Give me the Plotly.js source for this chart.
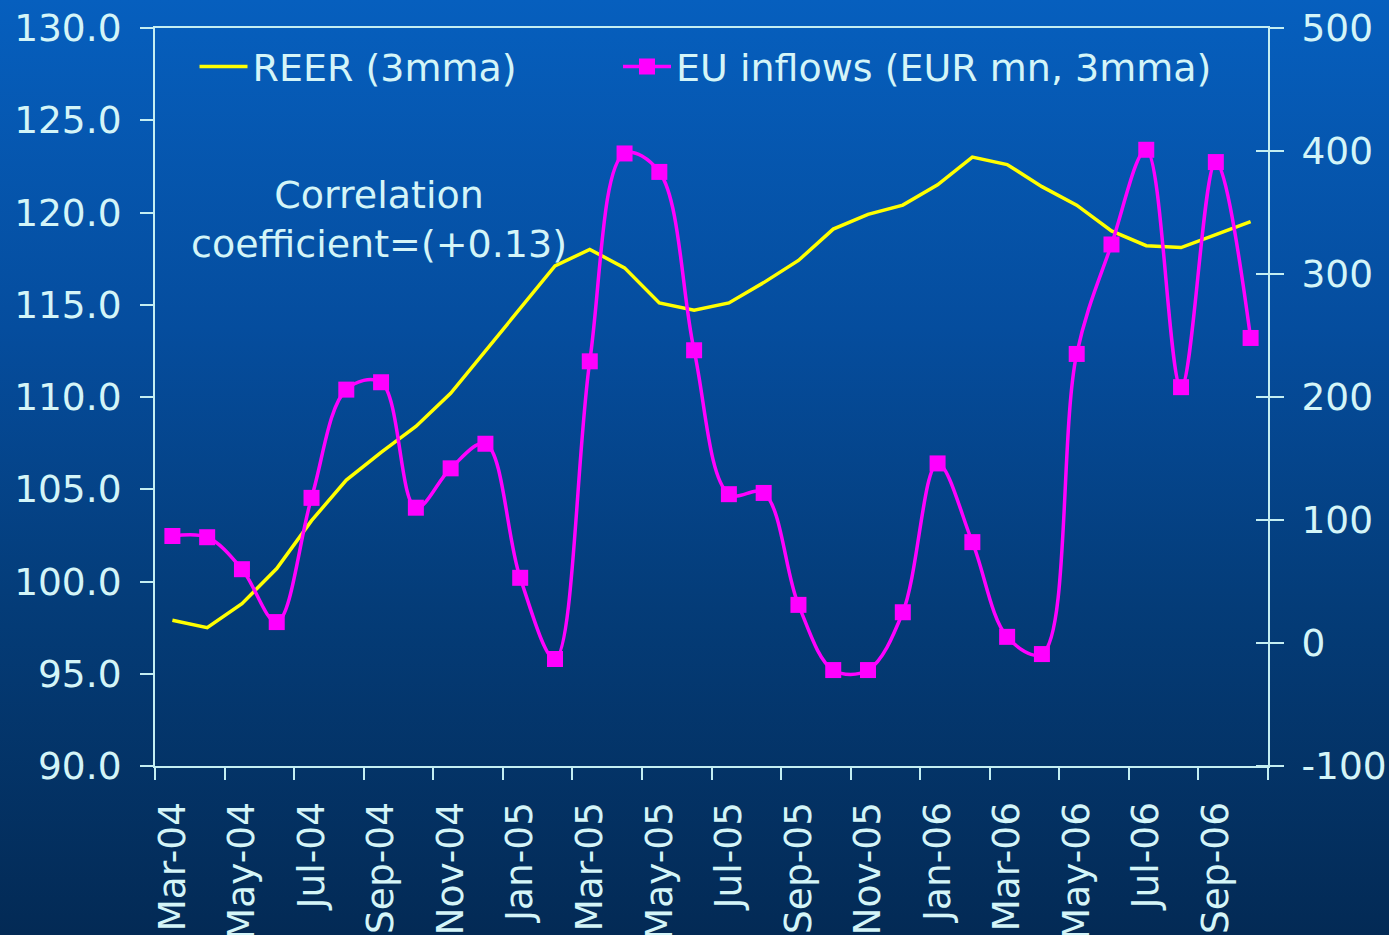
<!DOCTYPE html>
<html>
<head>
<meta charset="utf-8">
<script src="https://cdn.plot.ly/plotly-3.0.1.min.js"></script>
<style>
  html, body { margin: 0; padding: 0; width: 1389px; height: 935px; overflow: hidden; }
  body { background: linear-gradient(to bottom, #065fbe 0%, #054d9e 35%, #043c78 65%, #032a55 100%); }
  #chart { width: 1389px; height: 935px; }
</style>
</head>
<body>
<div id="chart"></div>
<script>
const months = ['Mar-04','Apr-04','May-04','Jun-04','Jul-04','Aug-04','Sep-04','Oct-04','Nov-04','Dec-04',
  'Jan-05','Feb-05','Mar-05','Apr-05','May-05','Jun-05','Jul-05','Aug-05','Sep-05','Oct-05','Nov-05','Dec-05',
  'Jan-06','Feb-06','Mar-06','Apr-06','May-06','Jun-06','Jul-06','Aug-06','Sep-06','Oct-06'];
const reer = [97.9,97.5,98.8,100.7,103.3,105.5,107.0,108.4,110.2,112.5,
  114.8,117.1,118.0,117.0,115.1,114.7,115.1,116.2,117.4,119.1,119.9,120.4,
  121.5,123.0,122.6,121.4,120.4,119.0,118.2,118.1,118.8,119.5];
const euInflows = [87,86,60,17,118,206,212,110,142,162,
  53,-13,229,398,383,238,121,122,31,-22,-22,25,
  146,82,5,-9,235,324,401,208,391,248];
const leftTicks = [90,95,100,105,110,115,120,125,130];
const rightTicks = [-100,0,100,200,300,400,500];
const rightTickText = ['-100','0','100','200','300','400','500'];
const seriesNames = ['REER (3mma)','EU inflows (EUR mn, 3mma)'];
const noteText = 'Correlation<br>coefficient=(+0.13)';

const textColor = '#d4f5f8';
const axisColor = '#c4eef2';
const tickSize = 37.5;
const textSize = 38;

const traces = [
  {
    x: months, y: reer, name: seriesNames[0], type: 'scatter', mode: 'lines',
    line: {color: '#ffff00', width: 3.5}, yaxis: 'y', legend: 'legend'
  },
  {
    x: months, y: euInflows, name: seriesNames[1], type: 'scatter', mode: 'lines+markers',
    line: {color: '#ff00ff', width: 3.5, shape: 'spline', smoothing: 1},
    marker: {symbol: 'square', size: 16, color: '#ff00ff'}, yaxis: 'y2', legend: 'legend2'
  }
];

const legendCommon = {
  orientation: 'h', yanchor: 'top', xanchor: 'left', y: 0.99,
  itemwidth: 48,
  bgcolor: 'rgba(0,0,0,0)', borderwidth: 0,
  font: {size: textSize, color: textColor}
};

const layout = {
  width: 1389, height: 935,
  margin: {l: 155, r: 121, t: 28, b: 169, pad: 0},
  paper_bgcolor: 'rgba(0,0,0,0)',
  plot_bgcolor: 'rgba(0,0,0,0)',
  font: {family: 'DejaVu Sans, Verdana, sans-serif', size: textSize, color: textColor},
  showlegend: true,
  legend: Object.assign({}, legendCommon, {x: 0.0355}),
  legend2: Object.assign({}, legendCommon, {x: 0.416}),
  xaxis: {
    type: 'category', range: [-0.5, 31.5],
    tickmode: 'linear', tick0: 0, dtick: 2, tickson: 'boundaries',
    ticks: 'outside', ticklen: 12, tickwidth: 2, tickcolor: axisColor,
    showline: true, linecolor: axisColor, linewidth: 2, mirror: true,
    tickangle: -90, showgrid: false, zeroline: false,
    ticklabelstandoff: 19,
    tickfont: {size: tickSize, color: textColor}
  },
  yaxis: {
    range: [90, 130], tickmode: 'array', tickvals: leftTicks, tickformat: '.1f',
    ticks: 'outside', ticklen: 13, tickwidth: 2, tickcolor: axisColor,
    showline: true, linecolor: axisColor, linewidth: 2,
    showgrid: false, zeroline: false,
    ticklabelstandoff: 11,
    tickfont: {size: tickSize, color: textColor}
  },
  yaxis2: {
    range: [-100, 500], overlaying: 'y', side: 'right', anchor: 'x',
    tickmode: 'array', tickvals: rightTicks, ticktext: rightTickText,
    ticks: 'outside', ticklen: 14, tickwidth: 2, tickcolor: axisColor,
    minor: {tickmode: 'linear', tick0: 0.4, dtick: 100, ticks: 'inside', ticklen: 12, tickwidth: 2, tickcolor: axisColor},
    showline: true, linecolor: axisColor, linewidth: 2,
    showgrid: false, zeroline: false,
    ticklabelstandoff: 10,
    tickfont: {size: tickSize, color: textColor}
  },
  annotations: [{
    text: noteText, xref: 'paper', yref: 'paper', x: 0.2013, y: 0.741,
    xanchor: 'center', yanchor: 'middle', showarrow: false, align: 'center',
    font: {size: textSize, color: textColor}
  }]
};

Plotly.newPlot('chart', traces, layout, {displayModeBar: false, staticPlot: true});
</script>
</body>
</html>
